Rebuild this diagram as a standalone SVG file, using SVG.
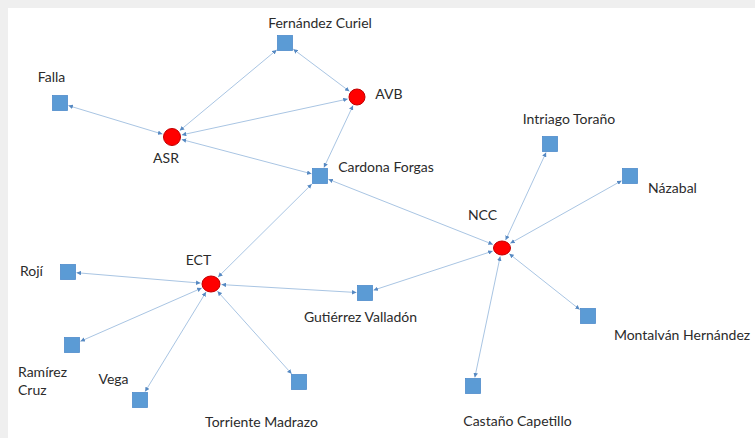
<svg xmlns="http://www.w3.org/2000/svg" width="755" height="438" viewBox="0 0 755 438">
<style>
.sq{fill:#5b9bd5;stroke:#4f8ccb;stroke-width:0.8}
.ci{fill:#ff0000;stroke:#c00000;stroke-width:1}
.e{stroke:#a9c5e3;stroke-width:1;fill:none;marker-start:url(#ah);marker-end:url(#ah)}
text{font-family:Lato,"Liberation Sans",sans-serif;font-size:14px;fill:#2b2b2b}
.m{text-anchor:middle}
</style>
<defs>
<marker id="ah" viewBox="0 0 6 6" refX="6" refY="3" markerWidth="4.5" markerHeight="4.5" markerUnits="userSpaceOnUse" orient="auto-start-reverse">
<path d="M0,0 L6,3 L0,6 z" fill="#5689c2"/>
</marker>
</defs>
<rect x="0" y="0" width="755" height="438" fill="#efefef"/>
<rect x="8" y="8" width="747" height="430" fill="#ffffff"/>
<g id="connectors">
<line class="e" x1="68.4" y1="105.6" x2="162.4" y2="134.1"/>
<line class="e" x1="179.7" y1="130.6" x2="276.7" y2="49.9"/>
<line class="e" x1="293.3" y1="49.2" x2="349.4" y2="91.3"/>
<line class="e" x1="181.8" y1="134.9" x2="347.7" y2="99.0"/>
<line class="e" x1="181.7" y1="139.5" x2="311.5" y2="173.8"/>
<line class="e" x1="323.9" y1="167.6" x2="353.0" y2="105.6"/>
<line class="e" x1="311.8" y1="184.1" x2="218.1" y2="277.0"/>
<line class="e" x1="328.4" y1="179.3" x2="492.9" y2="244.4"/>
<line class="e" x1="505.6" y1="240.1" x2="546.1" y2="152.4"/>
<line class="e" x1="510.3" y1="243.3" x2="621.6" y2="180.7"/>
<line class="e" x1="492.7" y1="251.1" x2="373.5" y2="290.2"/>
<line class="e" x1="509.3" y1="253.8" x2="579.7" y2="309.5"/>
<line class="e" x1="500.2" y1="256.4" x2="474.8" y2="377.5"/>
<line class="e" x1="200.5" y1="283.1" x2="76.5" y2="272.7"/>
<line class="e" x1="221.5" y1="284.6" x2="356.5" y2="292.5"/>
<line class="e" x1="201.7" y1="288.1" x2="80.4" y2="341.3"/>
<line class="e" x1="206.0" y1="292.1" x2="145.1" y2="391.6"/>
<line class="e" x1="217.5" y1="291.3" x2="291.6" y2="373.8"/>
</g>
<g id="fernandez-curiel"><rect class="sq" x="277.5" y="35.5" width="15" height="15"/><text class="m" x="320" y="28">Fernández Curiel</text></g>
<g id="falla"><rect class="sq" x="52.5" y="95.5" width="15" height="15"/><text class="m" x="51.5" y="82">Falla</text></g>
<g id="asr"><circle class="ci" cx="172" cy="137" r="8.5"/><text class="m" x="166" y="163">ASR</text></g>
<g id="avb"><circle class="ci" cx="357" cy="97" r="8"/><text class="m" x="389" y="99">AVB</text></g>
<g id="cardona-forgas"><rect class="sq" x="312.5" y="168.5" width="15" height="15"/><text class="m" x="386" y="172">Cardona Forgas</text></g>
<g id="intriago-torano"><rect class="sq" x="542.5" y="136.5" width="15" height="15"/><text class="m" x="569" y="124">Intriago Toraño</text></g>
<g id="nazabal"><rect class="sq" x="622.5" y="168.5" width="15" height="15"/><text class="m" x="672.5" y="193">Názabal</text></g>
<g id="ncc"><ellipse class="ci" cx="502" cy="248" rx="8.5" ry="7"/><text class="m" x="482.5" y="220">NCC</text></g>
<g id="gutierrez-valladon"><rect class="sq" x="357.5" y="285.5" width="15" height="15"/><text class="m" x="360.5" y="322">Gutiérrez Valladón</text></g>
<g id="montalvan-hernandez"><rect class="sq" x="580.5" y="308.5" width="15" height="15"/><text class="m" x="682" y="340">Montalván Hernández</text></g>
<g id="castano-capetillo"><rect class="sq" x="465.5" y="378.5" width="15" height="15"/><text class="m" x="517.5" y="426">Castaño Capetillo</text></g>
<g id="ect"><ellipse class="ci" cx="211" cy="284" rx="9" ry="8"/><text class="m" x="198.5" y="265">ECT</text></g>
<g id="roji"><rect class="sq" x="60.5" y="264.5" width="15" height="15"/><text class="m" x="31.5" y="276">Rojí</text></g>
<g id="ramirez-cruz"><rect class="sq" x="64.5" y="337.5" width="15" height="15"/><text x="18" y="377">Ramírez</text><text x="18" y="395">Cruz</text></g>
<g id="vega"><rect class="sq" x="132.5" y="392.5" width="15" height="15"/><text class="m" x="113.5" y="384">Vega</text></g>
<g id="torriente-madrazo"><rect class="sq" x="291.5" y="374.5" width="15" height="15"/><text class="m" x="261.5" y="427">Torriente Madrazo</text></g>
</svg>
